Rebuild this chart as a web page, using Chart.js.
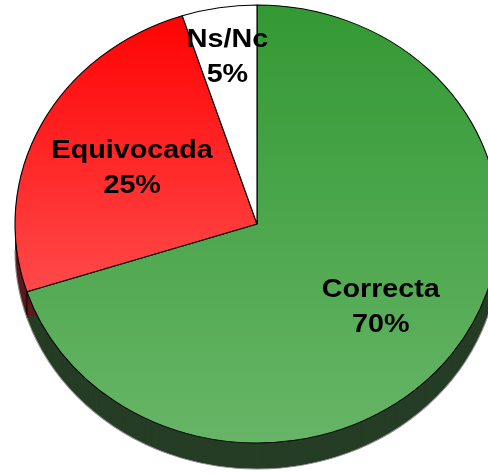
<!DOCTYPE html>
<html>
<head>
<meta charset="utf-8">
<script src="https://cdn.jsdelivr.net/npm/chart.js@4.4.1/dist/chart.umd.min.js"></script>
<style>
  html, body { margin: 0; padding: 0; background: #ffffff; }
  #wrap { width: 488px; height: 473px; overflow: hidden; }
</style>
</head>
<body>
<div id="wrap"><canvas id="pieChart" width="488" height="473"></canvas></div>
<script>
// Chart data
const categories = ["Correcta", "Equivocada", "Ns/Nc"];
const percentages = [70, 25, 5];

// Slice colours (top / bottom of the vertical gradient) and the darker side walls
const TOP_COLORS = ["#339933", "#ff0000", "#ffffff"];
const BOTTOM_COLORS = ["#67b567", "#ff7070", "#ffffff"];
const SIDE_COLORS = ["#263d26", "#5e1a1a", "#9a9a9a"];

// Drawing constants
const PIE_RADIUS = 219;
const STRETCH_X = 242 / 219;
const DEPTH = 26;
const LABEL_RADIUS = [0.632, 0.579, 0.782];
const LABEL_FONT = "bold 26px 'Liberation Sans', Arial, sans-serif";
const LINE_HEIGHT = 35;

// Stretch the whole drawing horizontally so the pie reads as a tilted disc
const stretchPlugin = {
  id: "stretch",
  beforeDraw(chart) {
    const { ctx, chartArea } = chart;
    const cx = (chartArea.left + chartArea.right) / 2;
    ctx.save();
    ctx.translate(cx, 0);
    ctx.scale(STRETCH_X, 1);
    ctx.translate(-cx, 0);
  },
  afterDraw(chart) {
    chart.ctx.restore();
  },
};

// Side wall of the 3D pie, drawn under the slices
const depthPlugin = {
  id: "depth",
  beforeDatasetsDraw(chart) {
    const ctx = chart.ctx;
    const arcs = chart.getDatasetMeta(0).data;
    if (!arcs.length) return;
    const { x, y, outerRadius } = arcs[0].getProps(["x", "y", "outerRadius"]);

    ctx.save();
    arcs.forEach((arc, i) => {
      const { startAngle, endAngle } = arc.getProps(["startAngle", "endAngle"]);
      ctx.fillStyle = SIDE_COLORS[i];
      for (let d = DEPTH; d > 0; d--) {
        ctx.beginPath();
        ctx.moveTo(x, y + d);
        ctx.arc(x, y + d, outerRadius, startAngle, endAngle);
        ctx.closePath();
        ctx.fill();
      }
    });

    // edges of the wall
    ctx.lineWidth = 1;
    ctx.strokeStyle = "#000000";
    arcs.forEach((arc) => {
      const a = arc.getProps(["startAngle"]).startAngle;
      const norm = ((a % (2 * Math.PI)) + 2 * Math.PI) % (2 * Math.PI);
      if (norm > 0 && norm < Math.PI) {
        const px = x + outerRadius * Math.cos(norm);
        const py = y + outerRadius * Math.sin(norm);
        ctx.beginPath();
        ctx.moveTo(px, py);
        ctx.lineTo(px, py + DEPTH);
        ctx.stroke();
      }
    });
    ctx.strokeStyle = "#8a8a8a";
    ctx.beginPath();
    ctx.arc(x, y + DEPTH, outerRadius, 0, Math.PI);
    ctx.stroke();
    ctx.restore();
  },
};

// Category name and percentage inside each slice
const labelPlugin = {
  id: "sliceLabels",
  afterDatasetsDraw(chart) {
    const ctx = chart.ctx;
    const arcs = chart.getDatasetMeta(0).data;
    ctx.save();
    ctx.font = LABEL_FONT;
    ctx.fillStyle = "#000000";
    ctx.textAlign = "center";
    ctx.textBaseline = "alphabetic";
    arcs.forEach((arc, i) => {
      const { x, y, startAngle, endAngle, outerRadius } = arc.getProps([
        "x", "y", "startAngle", "endAngle", "outerRadius",
      ]);
      const mid = (startAngle + endAngle) / 2;
      const r = outerRadius * LABEL_RADIUS[i];
      const lx = x + r * Math.cos(mid);
      const ly = y + r * Math.sin(mid);
      const capHalf = 9.3;
      ctx.fillText(categories[i], lx, ly - LINE_HEIGHT / 2 + capHalf);
      ctx.fillText(percentages[i] + "%", lx, ly + LINE_HEIGHT / 2 + capHalf);
    });
    ctx.restore();
  },
};

const sliceGradient = (context) => {
  const chart = context.chart;
  const area = chart.chartArea;
  const i = context.dataIndex;
  if (!area) return TOP_COLORS[i];
  const cy = (area.top + area.bottom) / 2;
  const g = chart.ctx.createLinearGradient(0, cy - PIE_RADIUS, 0, cy + PIE_RADIUS);
  g.addColorStop(0, TOP_COLORS[i]);
  g.addColorStop(1, BOTTOM_COLORS[i]);
  return g;
};

new Chart(document.getElementById("pieChart"), {
  type: "pie",
  data: {
    labels: categories,
    datasets: [
      {
        data: percentages,
        backgroundColor: sliceGradient,
        borderColor: "#000000",
        borderWidth: 1,
        clip: false,
      },
    ],
  },
  options: {
    responsive: false,
    animation: false,
    radius: PIE_RADIUS,
    rotation: 0,
    layout: { padding: { left: 26, right: 0, top: 0, bottom: 25 } },
    plugins: {
      legend: { display: false },
      tooltip: { enabled: false },
    },
  },
  plugins: [stretchPlugin, depthPlugin, labelPlugin],
});
</script>
</body>
</html>
